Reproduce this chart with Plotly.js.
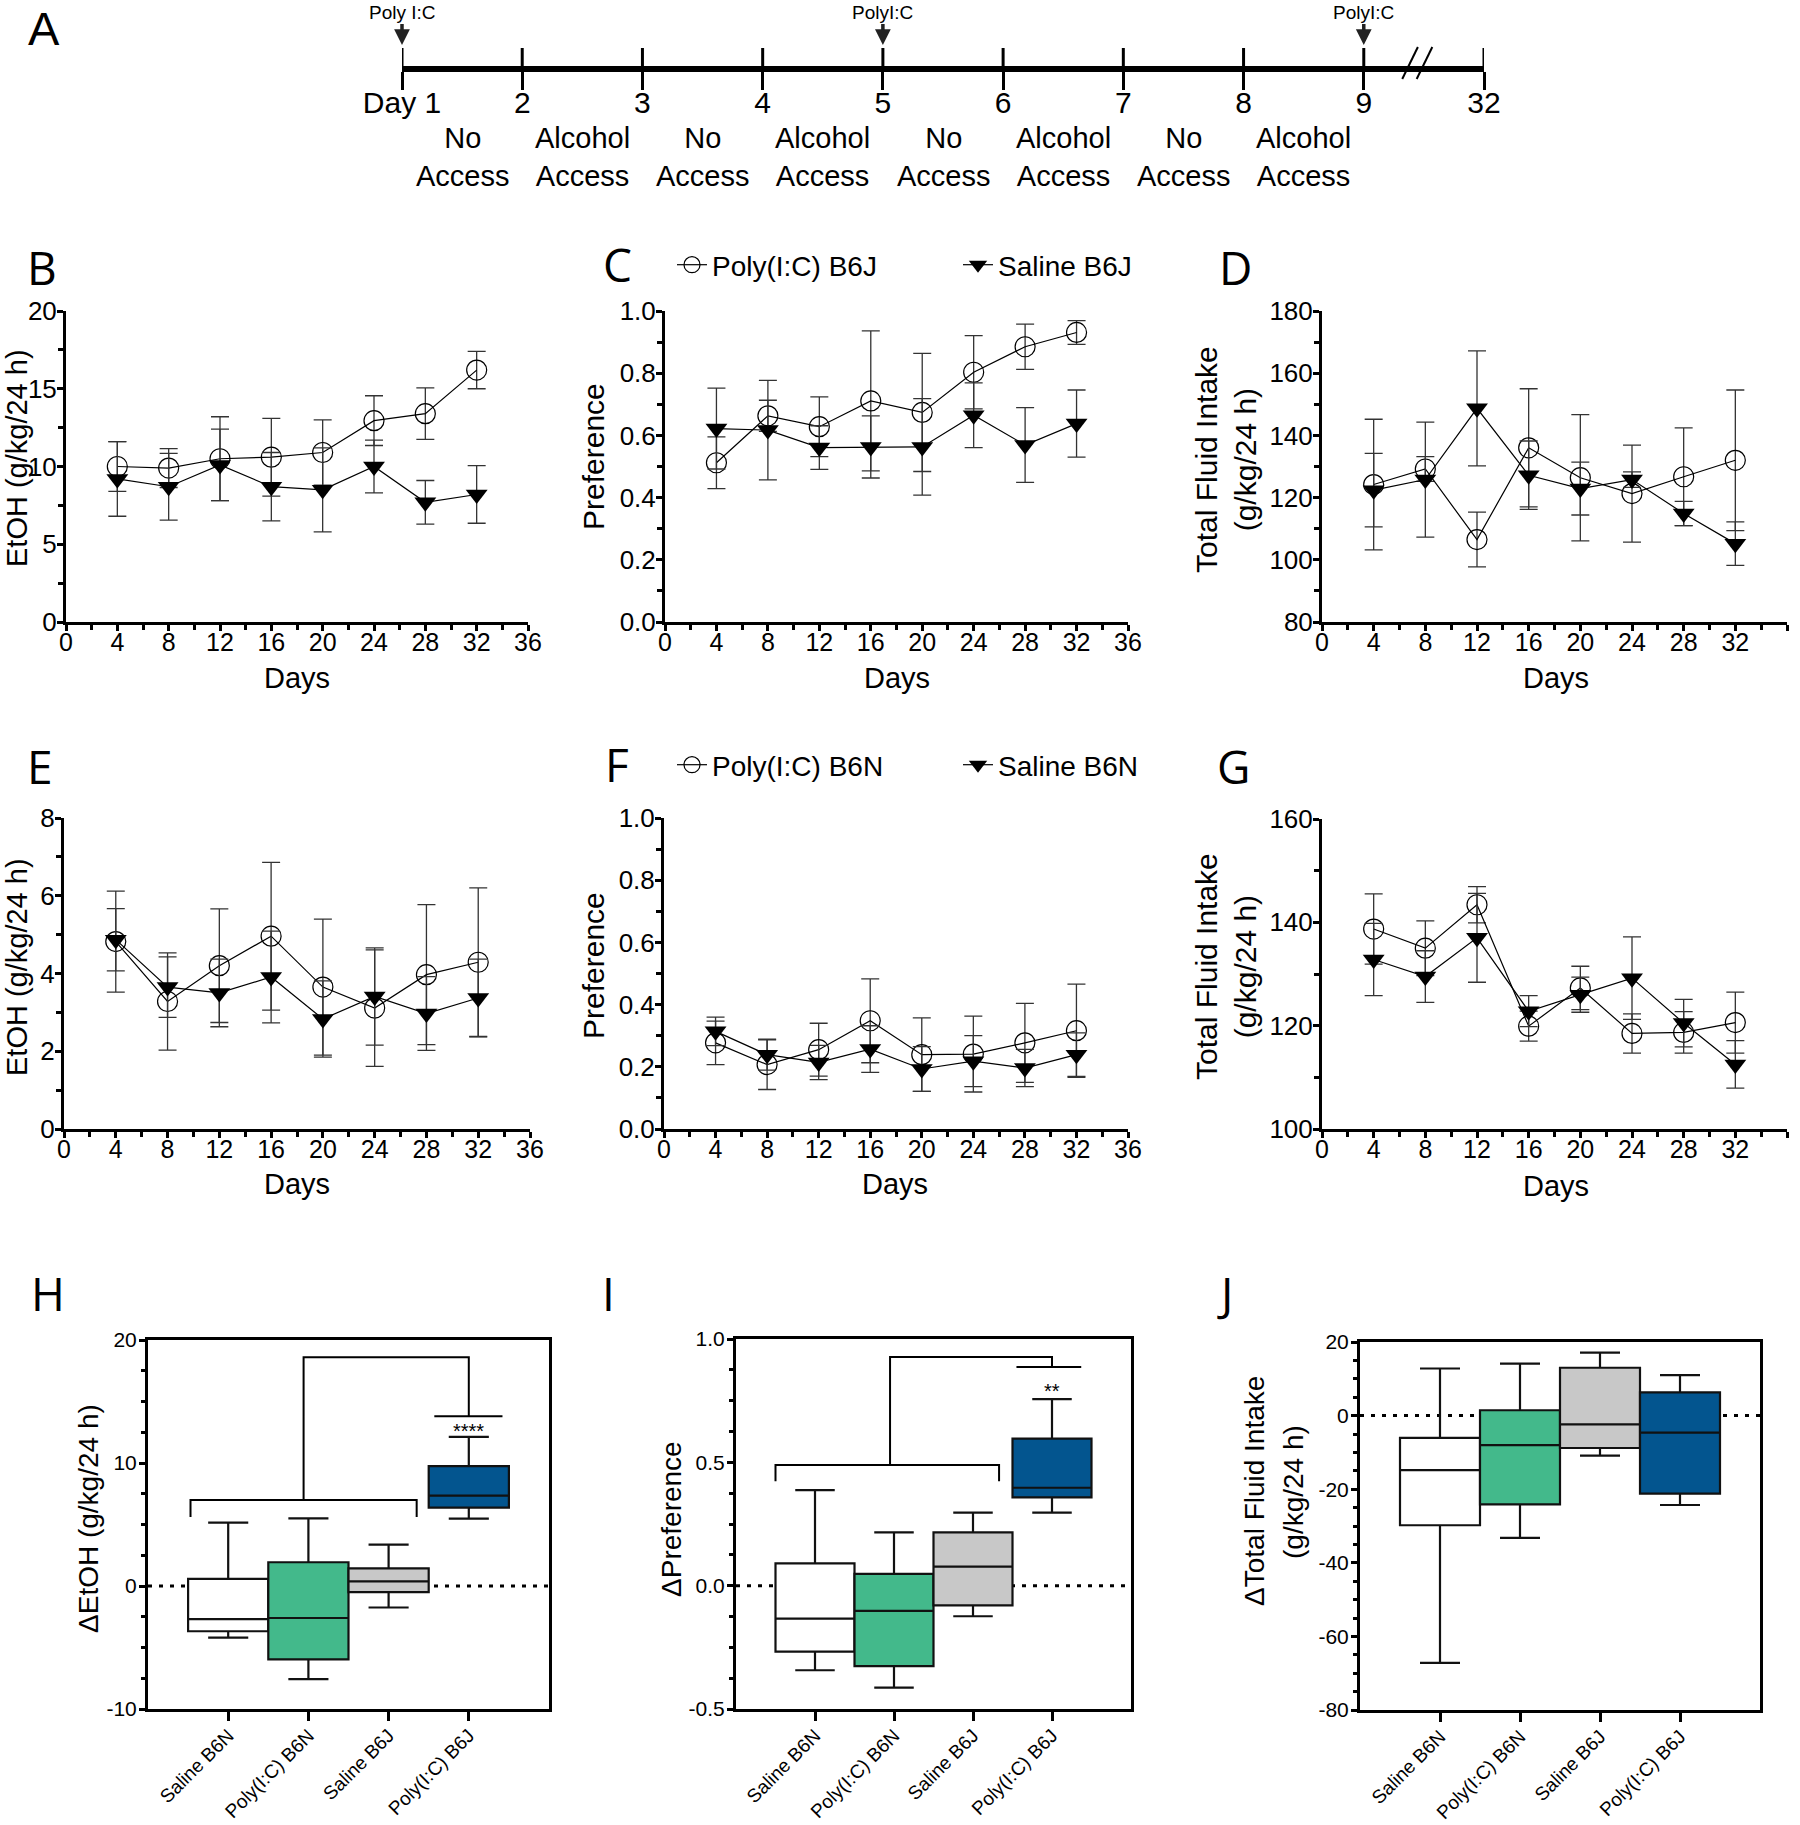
<!DOCTYPE html>
<html>
<head>
<meta charset="utf-8">
<script src="https://cdn.plot.ly/plotly-3.0.1.min.js"></script>
<style>
  html, body { margin: 0; padding: 0; background: #fff; }
  #chart { width: 1800px; height: 1825px; }
</style>
</head>
<body>
<div id="chart"></div>
<script>
// ---------------- DATA ----------------
const days = [4, 8, 12, 16, 20, 24, 28, 32];

// B: EtOH intake, B6J
const etohB6JPoly    = [10.0, 9.9, 10.5, 10.6, 10.9, 12.95, 13.4, 16.2];
const etohB6JPolyErr = [1.6, 1.25, 2.7, 2.5, 2.1, 1.6, 1.65, 1.2];
const etohB6JSal     = [9.2, 8.7, 10.1, 8.7, 8.5, 10.0, 7.7, 8.2];
const etohB6JSalErr  = [2.4, 2.15, 2.3, 2.2, 2.7, 1.7, 1.4, 1.85];

// C: Preference, B6J
const prefB6JPoly    = [0.512, 0.663, 0.628, 0.711, 0.674, 0.803, 0.885, 0.931];
const prefB6JPolyErr = [0.083, 0.05, 0.096, 0.225, 0.19, 0.118, 0.073, 0.038];
const prefB6JSal     = [0.622, 0.617, 0.561, 0.563, 0.563, 0.665, 0.569, 0.638];
const prefB6JSalErr  = [0.13, 0.16, 0.07, 0.1, 0.155, 0.104, 0.12, 0.108];

// D: Total fluid intake, B6J
const totB6JPoly    = [124.2, 129.2, 106.5, 136.0, 126.4, 121.3, 126.7, 132.0];
const totB6JPolyErr = [21, 4, 8.8, 19, 20.3, 15.6, 15.7, 22.6];
const totB6JSal     = [122.4, 125.8, 148.7, 127.2, 122.9, 125.8, 114.9, 105.2];
const totB6JSalErr  = [11.8, 18.5, 18.5, 11, 8.5, 2.5, 3.9, 7];

// E: EtOH intake, B6N
const etohB6NPoly    = [4.82, 3.28, 4.2, 4.96, 3.65, 3.11, 3.97, 4.29];
const etohB6NPolyErr = [1.3, 1.25, 1.46, 1.9, 1.75, 1.5, 1.8, 1.91];
const etohB6NSal     = [4.87, 3.65, 3.5, 3.91, 2.83, 3.41, 2.97, 3.37];
const etohB6NSalErr  = [0.8, 0.78, 0.87, 1.18, 0.98, 1.25, 0.95, 1.0];

// F: Preference, B6N
const prefB6NPoly    = [0.277, 0.207, 0.255, 0.348, 0.239, 0.241, 0.277, 0.316];
const prefB6NPolyErr = [0.07, 0.08, 0.085, 0.135, 0.118, 0.122, 0.127, 0.15];
const prefB6NSal     = [0.314, 0.239, 0.214, 0.257, 0.193, 0.218, 0.196, 0.239];
const prefB6NSalErr  = [0.046, 0.05, 0.055, 0.075, 0.072, 0.082, 0.06, 0.07];

// G: Total fluid intake, B6N
const totB6NPoly    = [138.7, 135.0, 143.4, 119.9, 127.3, 118.5, 118.7, 120.6];
const totB6NPolyErr = [6.8, 5.3, 3.5, 2.9, 4.2, 3.8, 4.0, 5.9];
const totB6NSal     = [132.8, 129.5, 137.0, 122.8, 126.0, 129.2, 120.5, 112.5];
const totB6NSalErr  = [7.0, 5.0, 8.6, 3.0, 3.4, 8.0, 4.6, 4.6];

// H, I, J: box plots
const groups = ['Saline B6N', 'Poly(I:C) B6N', 'Saline B6J', 'Poly(I:C) B6J'];
const groupColors = ['#ffffff', '#43b98b', '#c8c8c8', '#03558f'];

const dEtohQ1  = [-3.68, -5.96, -0.5, 6.37];
const dEtohMed = [-2.69, -2.6, 0.38, 7.34];
const dEtohQ3  = [0.58, 1.93, 1.43, 9.74];
const dEtohLo  = [-4.2, -7.57, -1.75, 5.47];
const dEtohHi  = [5.15, 5.5, 3.36, 12.13];

const dPrefQ1  = [-0.267, -0.326, -0.08, 0.358];
const dPrefMed = [-0.134, -0.102, 0.077, 0.397];
const dPrefQ3  = [0.09, 0.048, 0.216, 0.596];
const dPrefLo  = [-0.343, -0.413, -0.124, 0.296];
const dPrefHi  = [0.387, 0.216, 0.296, 0.756];

const dTotQ1  = [-29.8, -24.1, -8.8, -21.2];
const dTotMed = [-14.8, -8.0, -2.4, -4.6];
const dTotQ3  = [-6.05, 1.46, 13.0, 6.3];
const dTotLo  = [-67.2, -33.2, -10.9, -24.3];
const dTotHi  = [12.8, 14.1, 17.1, 11.0];

// A: timeline
const timelineDays = ['Day 1', '2', '3', '4', '5', '6', '7', '8', '9', '32'];
const accessTop = ['No', 'Alcohol', 'No', 'Alcohol', 'No', 'Alcohol', 'No', 'Alcohol'];
const accessBottom = ['Access', 'Access', 'Access', 'Access', 'Access', 'Access', 'Access', 'Access'];
const injectionDays = ['Day 1', '5', '9'];
const injectionLabels = ['Poly I:C', 'PolyI:C', 'PolyI:C'];

// ---------------- HELPERS ----------------
const W = 1800, H = 1825;
const px = v => v / W;
const py = v => 1 - v / H;
const SANS = 'Liberation Sans, Arial, sans-serif';
const LETTER = 'Open Sans, Liberation Sans, sans-serif';

const traces = [];
const layout = {
  width: W, height: H,
  margin: {l: 0, r: 0, t: 0, b: 0},
  paper_bgcolor: '#ffffff',
  plot_bgcolor: 'rgba(0,0,0,0)',
  font: {family: SANS, color: '#000'},
  showlegend: true,
  boxmode: 'overlay',
  shapes: [],
  annotations: []
};

function axName(n) { return n === 1 ? '' : String(n); }

function addLinePanel(n, dom, yRange, yDtick, yFmt, polyY, polyE, salY, salE, names, legendId) {
  const s = axName(n);
  const common = {
    xaxis: 'x' + s, yaxis: 'y' + s, mode: 'lines+markers', cliponaxis: false,
    hoverinfo: 'skip'
  };
  traces.push(Object.assign({}, common, {
    type: 'scatter', x: days, y: polyY, name: names[0],
    showlegend: !!legendId, legend: legendId || 'legend',
    line: {color: '#000', width: 1.2},
    marker: {symbol: 'circle', size: 20, color: 'rgba(0,0,0,0)', line: {color: '#000', width: 1.2}},
    error_y: {type: 'data', array: polyE, visible: true, color: '#333', thickness: 1.3, width: 9}
  }));
  traces.push(Object.assign({}, common, {
    type: 'scatter', x: days, y: salY, name: names[1],
    showlegend: !!legendId, legend: legendId || 'legend',
    line: {color: '#000', width: 1.2},
    marker: {symbol: 'triangle-down', size: 19, color: '#000', line: {color: '#000', width: 0}},
    error_y: {type: 'data', array: salE, visible: true, color: '#333', thickness: 1.3, width: 9}
  }));
  layout['xaxis' + s] = {
    domain: [px(dom.x0), px(dom.x1)], anchor: 'y' + s, range: [0, 36],
    tick0: 0, dtick: 4, ticks: 'outside', ticklen: 6, tickwidth: 3, tickcolor: '#000',
    showline: true, linewidth: 3, linecolor: '#000', showgrid: false, zeroline: false,
    tickfont: {family: SANS, size: 25, color: '#000'}, ticklabelstandoff: -10,
    minor: {tick0: 0, dtick: 2, ticks: 'outside', ticklen: 5, tickwidth: 3, tickcolor: '#000', showgrid: false}
  };
  layout['yaxis' + s] = {
    domain: [py(dom.y1), py(dom.y0)], anchor: 'x' + s, range: yRange,
    tick0: yRange[0], dtick: yDtick, tickformat: yFmt, ticks: 'outside', ticklen: 6, tickwidth: 3, tickcolor: '#000',
    showline: true, linewidth: 3, linecolor: '#000', showgrid: false, zeroline: false,
    tickfont: {family: SANS, size: 26, color: '#000'}, ticklabelstandoff: -5,
    minor: {tick0: yRange[0], dtick: yDtick / 2, ticks: 'outside', ticklen: 5, tickwidth: 3, tickcolor: '#000', showgrid: false}
  };
}

function rangeTicks(a, b, step, dec) {
  const out = [];
  for (let v = a; v <= b + 1e-9; v += step) out.push(+v.toFixed(dec));
  return out;
}

function addBoxPanel(n, dom, yRange, yStep, yMinor, dec, q1, med, q3, lo, hi) {
  const s = axName(n);
  groups.forEach((g, i) => {
    traces.push({
      type: 'box', x: [g], q1: [q1[i]], median: [med[i]], q3: [q3[i]],
      lowerfence: [lo[i]], upperfence: [hi[i]],
      xaxis: 'x' + s, yaxis: 'y' + s, width: 1, whiskerwidth: 0.5,
      fillcolor: groupColors[i], line: {color: '#111', width: 2.2},
      boxpoints: false, showlegend: false, hoverinfo: 'skip', name: g
    });
  });
  const major = rangeTicks(yRange[0], yRange[1], yStep, 3);
  const minor = rangeTicks(yRange[0], yRange[1], yMinor, 4).filter(v => !major.some(m => Math.abs(m - v) < 1e-9));
  layout['xaxis' + s] = {
    domain: [px(dom.x0), px(dom.x1)], anchor: 'y' + s, type: 'category', range: [-1, 4],
    tickangle: -45, ticks: 'outside', ticklen: 9, tickwidth: 3, tickcolor: '#000',
    showline: true, mirror: true, linewidth: 3, linecolor: '#000', showgrid: false, zeroline: false,
    tickfont: {family: SANS, size: 19, color: '#000'}, ticklabelstandoff: -4
  };
  layout['yaxis' + s] = {
    domain: [py(dom.y1), py(dom.y0)], anchor: 'x' + s, range: yRange,
    tickmode: 'array', tickvals: major, ticktext: major.map(v => v.toFixed(dec)),
    ticks: 'outside', ticklen: 6, tickwidth: 3, tickcolor: '#000',
    showline: true, mirror: true, linewidth: 3, linecolor: '#000', showgrid: false, zeroline: false,
    tickfont: {family: SANS, size: 21, color: '#000'}, ticklabelstandoff: -2,
    minor: {tickmode: 'array', tickvals: minor, ticks: 'outside', ticklen: 4, tickwidth: 3, tickcolor: '#000', showgrid: false}
  };
  layout.shapes.push({
    type: 'line', xref: 'x' + s + ' domain', yref: 'y' + s, x0: 0, x1: 1, y0: 0, y1: 0,
    line: {color: '#000', width: 3, dash: '4px,7px'}, layer: 'below'
  });
}

// ---------------- PANELS B-G ----------------
addLinePanel(1, {x0: 66, x1: 528, y0: 311, y1: 622}, [0, 20], 5, 'd',
  etohB6JPoly, etohB6JPolyErr, etohB6JSal, etohB6JSalErr, ['Poly(I:C) B6J', 'Saline B6J'], null);
addLinePanel(2, {x0: 665, x1: 1128, y0: 311, y1: 622}, [0, 1], 0.2, '.1f',
  prefB6JPoly, prefB6JPolyErr, prefB6JSal, prefB6JSalErr, ['Poly(I:C) B6J', 'Saline B6J'], 'legend');
addLinePanel(3, {x0: 1322, x1: 1787, y0: 311, y1: 622}, [80, 180], 20, 'd',
  totB6JPoly, totB6JPolyErr, totB6JSal, totB6JSalErr, ['Poly(I:C) B6J', 'Saline B6J'], null);
addLinePanel(4, {x0: 64, x1: 530, y0: 818, y1: 1129}, [0, 8], 2, 'd',
  etohB6NPoly, etohB6NPolyErr, etohB6NSal, etohB6NSalErr, ['Poly(I:C) B6N', 'Saline B6N'], null);
addLinePanel(5, {x0: 664, x1: 1128, y0: 818, y1: 1129}, [0, 1], 0.2, '.1f',
  prefB6NPoly, prefB6NPolyErr, prefB6NSal, prefB6NSalErr, ['Poly(I:C) B6N', 'Saline B6N'], 'legend2');
addLinePanel(6, {x0: 1322, x1: 1787, y0: 819, y1: 1129}, [100, 160], 20, 'd',
  totB6NPoly, totB6NPolyErr, totB6NSal, totB6NSalErr, ['Poly(I:C) B6N', 'Saline B6N'], null);

// ---------------- PANELS H-J ----------------
addBoxPanel(7, {x0: 148, x1: 549, y0: 1340, y1: 1709}, [-10, 20], 10, 2.5, 0,
  dEtohQ1, dEtohMed, dEtohQ3, dEtohLo, dEtohHi);
addBoxPanel(8, {x0: 736, x1: 1131, y0: 1339, y1: 1709}, [-0.5, 1.0], 0.5, 0.125, 1,
  dPrefQ1, dPrefMed, dPrefQ3, dPrefLo, dPrefHi);
addBoxPanel(9, {x0: 1360, x1: 1760, y0: 1342, y1: 1710}, [-80, 20], 20, 5, 0,
  dTotQ1, dTotMed, dTotQ3, dTotLo, dTotHi);

// significance brackets
const bracket = (s, d) => ({type: 'path', xref: 'x' + s, yref: 'y' + s, path: d, line: {color: '#000', width: 2}});
layout.shapes.push(bracket('7', 'M -0.47,5.6 L -0.47,7 L 2.35,7 L 2.35,5.6'));
layout.shapes.push(bracket('7', 'M 0.94,7 L 0.94,18.6 L 3,18.6 L 3,13.8'));
layout.shapes.push(bracket('7', 'M 2.57,13.8 L 3.42,13.8'));
layout.shapes.push(bracket('8', 'M -0.5,0.423 L -0.5,0.489 L 2.33,0.489 L 2.33,0.423'));
layout.shapes.push(bracket('8', 'M 0.95,0.489 L 0.95,0.927 L 3,0.927 L 3,0.886'));
layout.shapes.push(bracket('8', 'M 2.55,0.886 L 3.37,0.886'));
layout.annotations.push({xref: 'x7', yref: 'y7', x: 3, y: 12.6, text: '****', showarrow: false,
  xanchor: 'center', yanchor: 'middle', font: {family: SANS, size: 20, color: '#000'}});
layout.annotations.push({xref: 'x8', yref: 'y8', x: 3, y: 0.79, text: '**', showarrow: false,
  xanchor: 'center', yanchor: 'middle', font: {family: SANS, size: 20, color: '#000'}});

// ---------------- PANEL A (timeline) ----------------
layout.xaxis10 = {
  domain: [px(402), px(1484)], anchor: 'y10', type: 'category', range: [0, timelineDays.length - 1],
  tickmode: 'array', tickvals: timelineDays, ticktext: timelineDays,
  ticks: 'outside', ticklen: 18, tickwidth: 3, tickcolor: '#000',
  showline: true, linewidth: 6, linecolor: '#000', showgrid: false, zeroline: false,
  tickfont: {family: SANS, size: 30, color: '#000'}, ticklabelstandoff: -13, fixedrange: true
};
layout.yaxis10 = {domain: [py(66), py(40)], anchor: 'x10', range: [0, 1], visible: false, fixedrange: true};
traces.push({type: 'scatter', x: timelineDays, y: timelineDays.map(() => null), xaxis: 'x10', yaxis: 'y10',
  mode: 'markers', showlegend: false, hoverinfo: 'skip'});
timelineDays.forEach((d, i) => {
  layout.shapes.push({type: 'line', xref: 'x10', yref: 'paper', x0: i, x1: i, y0: py(66), y1: py(48),
    line: {color: '#000', width: 3}});
});
layout.shapes.push({type: 'line', xref: 'x10', yref: 'paper', x0: 8.32, x1: 8.45, y0: py(79), y1: py(47), line: {color: '#000', width: 2}});
layout.shapes.push({type: 'line', xref: 'x10', yref: 'paper', x0: 8.44, x1: 8.57, y0: py(79), y1: py(47), line: {color: '#000', width: 2}});
accessTop.forEach((t, i) => {
  layout.annotations.push({xref: 'x10', yref: 'paper', x: i + 0.5, y: py(157), text: t + '<br>' + accessBottom[i],
    showarrow: false, xanchor: 'center', yanchor: 'middle', align: 'center',
    font: {family: SANS, size: 29, color: '#000'}});
});
injectionDays.forEach((d, i) => {
  layout.annotations.push({xref: 'x10', yref: 'paper', x: timelineDays.indexOf(d), y: py(45),
    text: injectionLabels[i], showarrow: true, ax: 0, ay: -33, arrowhead: 2, arrowsize: 0.9, arrowwidth: 3.5,
    arrowcolor: '#222', font: {family: SANS, size: 19, color: '#000'}});
});

// ---------------- LEGENDS ----------------
const legendBase = {
  xanchor: 'left', yanchor: 'middle', orientation: 'h', bgcolor: 'rgba(0,0,0,0)', borderwidth: 0,
  font: {family: SANS, size: 28, color: '#000'}, entrywidth: 241, entrywidthmode: 'pixels',
  itemclick: false, itemdoubleclick: false
};
layout.legend = Object.assign({}, legendBase, {x: px(672), y: py(265)});
layout.legend2 = Object.assign({}, legendBase, {x: px(672), y: py(765)});

// ---------------- TEXT: letters and axis titles ----------------
const letters = [
  ['B', 42, 267], ['C', 617, 264], ['D', 1235, 267],
  ['E', 40, 766], ['F', 617, 764], ['G', 1233, 766],
  ['H', 48, 1293], ['I', 608, 1293], ['J', 1225, 1293]
];
letters.forEach(([t, x, y]) => layout.annotations.push({
  xref: 'paper', yref: 'paper', x: px(x), y: py(y), text: t, showarrow: false,
  xanchor: 'center', yanchor: 'middle', font: {family: LETTER, size: 46, color: '#000'}
}));
layout.annotations.push({
  xref: 'paper', yref: 'paper', x: px(44), y: 1, text: 'A', showarrow: false,
  xanchor: 'center', yanchor: 'top', font: {family: SANS, size: 47, color: '#000'}
});

const yTitles = [
  ['EtOH (g/kg/24 h)', 17, 458, 29], ['Preference', 593, 457, 30], ['Total Fluid Intake<br>(g/kg/24 h)', 1226, 460, 30],
  ['EtOH (g/kg/24 h)', 17, 967, 29], ['Preference', 593, 966, 30], ['Total Fluid Intake<br>(g/kg/24 h)', 1226, 967, 30],
  ['ΔEtOH (g/kg/24 h)', 88, 1519, 28], ['ΔPreference', 671, 1519, 28],
  ['ΔTotal Fluid Intake', 1254, 1491, 28], ['(g/kg/24 h)', 1293, 1492, 28]
];
yTitles.forEach(([t, x, y, s]) => layout.annotations.push({
  xref: 'paper', yref: 'paper', x: px(x), y: py(y), text: t, textangle: -90, showarrow: false,
  xanchor: 'center', yanchor: 'middle', font: {family: SANS, size: s, color: '#000'}
}));

const xTitles = [[297, 678], [897, 678], [1556, 678], [297, 1184], [895, 1184], [1556, 1186]];
xTitles.forEach(([x, y]) => layout.annotations.push({
  xref: 'paper', yref: 'paper', x: px(x), y: py(y), text: 'Days', showarrow: false,
  xanchor: 'center', yanchor: 'middle', font: {family: SANS, size: 29, color: '#000'}
}));

Plotly.newPlot('chart', traces, layout, {staticPlot: true, displayModeBar: false});
</script>
</body>
</html>
